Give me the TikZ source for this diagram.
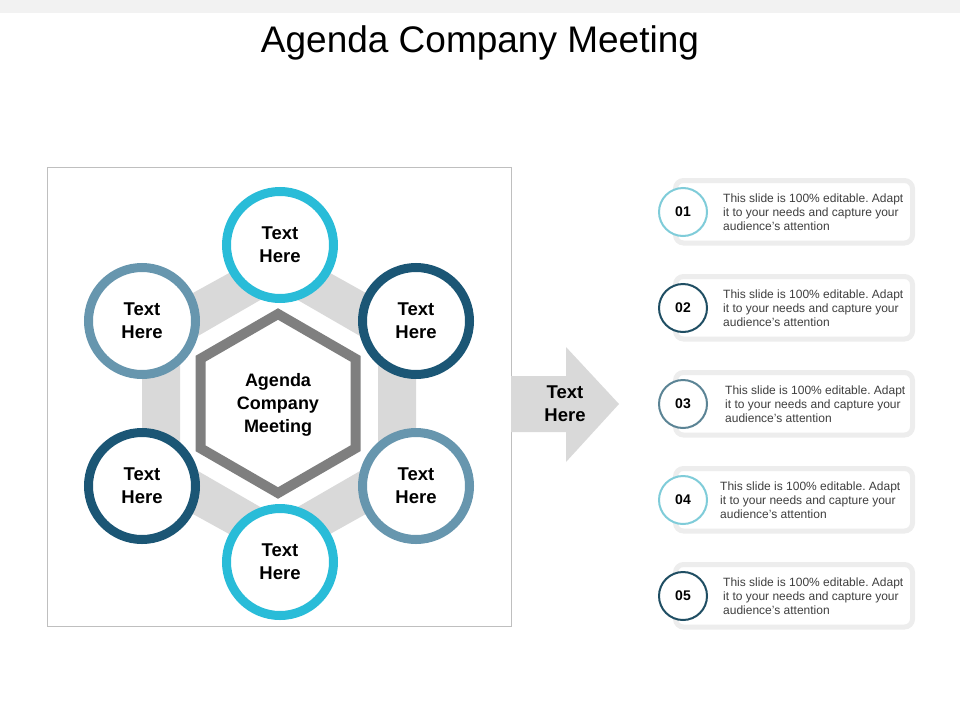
\documentclass[tikz,border=0pt]{standalone}
\usepackage{fontspec}
\setmainfont{Liberation Sans}
\frenchspacing
\definecolor{topgray}{HTML}{F2F2F2}
\definecolor{boxgray}{HTML}{BFBFBF}
\definecolor{bandgray}{HTML}{D9D9D9}
\definecolor{hexgray}{HTML}{7F7F7F}
\definecolor{cyanc}{HTML}{29BCD8}
\definecolor{darkc}{HTML}{1B5675}
\definecolor{greyblue}{HTML}{6796AE}
\definecolor{lteal}{HTML}{7FCCD9}
\definecolor{ndark}{HTML}{1F4E63}
\definecolor{ngrey}{HTML}{5B8495}
\definecolor{cardgray}{HTML}{EDEDED}
\definecolor{txtgray}{HTML}{3F3F3F}
\tikzset{
  ring/.style={circle, draw=#1, line width=9pt, fill=white, minimum size=107pt, inner sep=0pt,
    align=center, font=\bfseries\fontsize{18.5}{23}\selectfont},
  card/.style={draw=cardgray, line width=5pt, fill=white, rounded corners=8pt},
  numring/.style={circle, draw=#1, line width=2pt, fill=white, minimum size=48pt, inner sep=0pt,
    font=\bfseries\fontsize{14}{16}\selectfont},
  itemtext/.style={anchor=west, align=left, text=txtgray, inner sep=0pt,
    font=\fontsize{12}{14}\selectfont}
}
\begin{document}
\begin{tikzpicture}[x=1pt,y=-1pt]
\useasboundingbox (0,0) rectangle (960,720);
\fill[topgray] (0,0) rectangle (960,13);
\node[font=\fontsize{37}{40}\selectfont] (title) at (480,43) {Agenda Company Meeting};
\draw[boxgray, line width=1pt] (47,167) rectangle (511,626);
% hexagon band
\fill[bandgray, even odd rule]
  (280,245) -- (416,321) -- (416,486) -- (280,562) -- (142,486) -- (142,321) -- cycle
  (279,289.2) -- (378,346.4) -- (378,460.6) -- (279,517.8) -- (180,460.6) -- (180,346.4) -- cycle;
% centre hexagon
\draw[hexgray, line width=10pt, line join=miter]
  (278,314) -- (355.5,358.75) -- (355.5,448.25) -- (278,493) -- (200.5,448.25) -- (200.5,358.75) -- cycle;
\node[align=center, font=\bfseries\fontsize{18}{23}\selectfont] (centre) at (278,405) {Agenda\\Company\\Meeting};
% circles
\node[ring=cyanc] (c1) at (280,245) {Text\\Here};
\node[ring=darkc] (c2) at (416,321) {Text\\Here};
\node[ring=greyblue] (c3) at (416,486) {Text\\Here};
\node[ring=cyanc] (c4) at (280,562) {Text\\Here};
\node[ring=darkc] (c5) at (142,486) {Text\\Here};
\node[ring=greyblue] (c6) at (142,321) {Text\\Here};
% arrow
\fill[bandgray] (511,376) -- (566,376) -- (566,347) -- (619,404) -- (566,462) -- (566,432) -- (511,432) -- cycle;
\node[align=center, font=\bfseries\fontsize{18.5}{23}\selectfont] (arrowtext) at (565,404) {Text\\Here};
% list
\foreach \y/\n/\col/\tx in {212/01/lteal/723, 308/02/ndark/723, 404/03/ngrey/725, 500/04/lteal/720, 596/05/ndark/723}{
  \draw[card] (675.5,\y-31.5) rectangle (912.5,\y+31);
  \node[numring=\col] (n\n) at (683,\y) {\n};
  \node[itemtext] (t\n) at (\tx,\y) {This slide is 100\% editable. Adapt\\it to your needs and capture your\\audience's attention};
}
\end{tikzpicture}
\end{document}
